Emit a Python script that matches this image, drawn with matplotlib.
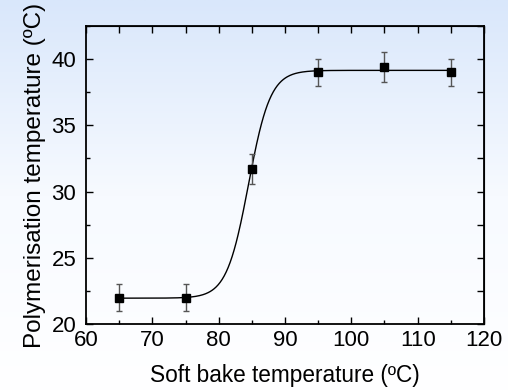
import numpy as np
import matplotlib
matplotlib.use("Agg")
import matplotlib.pyplot as plt
from matplotlib.colors import LinearSegmentedColormap
from matplotlib.ticker import MultipleLocator, NullFormatter

plt.rcParams['font.family'] = ['Liberation Sans', 'DejaVu Sans']

# measured points
bake_temp = [65, 75, 85, 95, 105, 115]
poly_temp = [22.0, 22.0, 31.7, 39.0, 39.4, 39.0]
poly_err = [1.0, 1.0, 1.1, 1.0, 1.1, 1.0]

# Boltzmann fit parameters
fit_a1 = 21.95
fit_a2 = 39.15
fit_x0 = 84.5
fit_dx = 1.65

fig = plt.figure(figsize=(5.08, 3.91), dpi=100)

# light blue background gradient behind everything
bg = fig.add_axes([0, 0, 1, 1], zorder=-10)
grad_cmap = LinearSegmentedColormap.from_list('bg', ['#d9e7fb', '#f7faff', '#ffffff'])
bg.imshow(np.linspace(0, 1, 256).reshape(-1, 1), aspect='auto', cmap=grad_cmap,
          extent=[0, 1, 0, 1], origin='upper')
bg.axis('off')

ax = fig.add_axes([86 / 508, 1 - 324 / 391, 398 / 508, 298 / 391])
ax.patch.set_alpha(0)

xs = np.linspace(65, 115, 500)
fit = fit_a2 + (fit_a1 - fit_a2) / (1 + np.exp((xs - fit_x0) / fit_dx))
ax.plot(xs, fit, color='black', lw=1.0, zorder=2)

ax.errorbar(bake_temp, poly_temp, yerr=poly_err, fmt='s', color='black',
            ms=5.5, ecolor='#555555', elinewidth=1.0, capsize=2.3, capthick=1.0, zorder=3)

ax.set_xlim(60, 120)
ax.set_ylim(20, 42.5)
ax.xaxis.set_major_locator(MultipleLocator(10))
ax.xaxis.set_minor_locator(MultipleLocator(5))
ax.yaxis.set_major_locator(MultipleLocator(5))
ax.yaxis.set_minor_locator(MultipleLocator(2.5))
ax.tick_params(which='major', direction='in', length=5, width=1.0, labelsize=16, pad=4)
ax.tick_params(which='minor', direction='in', length=3, width=1.0)
ax.tick_params(axis='y', which='major', pad=7)
for s in ax.spines.values():
    s.set_linewidth(1.3)

# top and right ticks, all the same length
top = ax.secondary_xaxis('top')
top.xaxis.set_major_locator(MultipleLocator(5))
top.xaxis.set_major_formatter(NullFormatter())
top.tick_params(direction='in', length=5, width=1.0)
right = ax.secondary_yaxis('right')
right.yaxis.set_major_locator(MultipleLocator(2.5))
right.yaxis.set_major_formatter(NullFormatter())
right.tick_params(direction='in', length=5, width=1.0)

ax.set_xlabel('Soft bake temperature (ºC)', fontsize=16.3, labelpad=10)
ax.set_ylabel('Polymerisation temperature (ºC)', fontsize=17.5, labelpad=4)

fig.savefig('out.png', dpi=100)
